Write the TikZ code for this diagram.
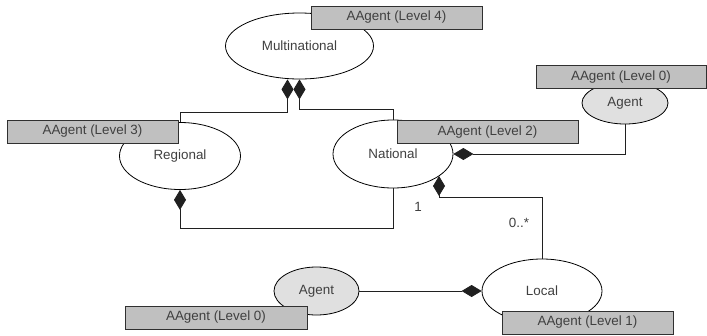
\documentclass[tikz,border=0pt]{standalone}
\usepackage{fontspec}
\setmainfont{Liberation Sans}
\usetikzlibrary{shapes.geometric,arrows.meta,calc}
\definecolor{boxfill}{HTML}{C0C0C0}
\definecolor{boxline}{HTML}{303030}
\definecolor{agentfill}{HTML}{E0E0E0}
\definecolor{txt}{HTML}{404040}
\definecolor{linecol}{HTML}{202020}
\begin{document}
\begin{tikzpicture}[x=1pt,y=-1pt,
  font=\fontsize{13.4}{16}\selectfont,
  role/.style={ellipse,draw=black,line width=0.8pt,fill=white,inner sep=0pt,text=txt},
  agentrole/.style={role,fill=agentfill},
  level/.style={rectangle,draw=boxline,line width=0.8pt,fill=boxfill,inner sep=0pt,
    minimum height=23,text=txt},
  comp/.style={draw=linecol,line width=0.8pt,{Diamond[length=20pt,width=12pt]}-},
  mult/.style={text=txt,inner sep=0pt}]
\useasboundingbox (0,0) rectangle (707,335);

% aggregation hierarchy
\node[role,minimum width=148,minimum height=66] (multi) at (299.5,46) {Multinational};
\node[role,minimum width=121,minimum height=67] (reg) at (180,156) {Regional};
\node[role,minimum width=120,minimum height=68] (nat) at (393,154) {National};
\node[role,minimum width=120,minimum height=64] (loc) at (542,291) {Local};
\node[agentrole,minimum width=86,minimum height=42] (agt) at (625,103) {Agent};
\node[agentrole,minimum width=85,minimum height=48] (agb) at (316.5,291) {Agent};

% composition links
\draw[comp] ($(multi.south)+(-12,0)$) -- ++(0,33) -| (reg.north);
\draw[comp] (multi.south) -- ++(0,30) -| (nat.north);
\draw[comp] (reg.south) -- ++(0,38) -| (nat.south);
\draw[comp] (nat.east) -| (agt.south);
\coordinate (natse) at ($(nat.center)+(46,22)$);
\draw[comp] (natse) -- ++(0,21) -| (loc.north);
\draw[comp] (loc.west) -- (agb.east);

% multiplicities
\node[mult] (one) at (418,207) {1};
\node[mult] (many) at (519,223) {0..*};

% agent level tags
\node[level,minimum width=171] (l4) at (396.5,17.5) {AAgent (Level 4)};
\node[level,minimum width=171] (l3) at (92.5,131.5) {AAgent (Level 3)};
\node[level,minimum width=181] (l2) at (487.5,132) {AAgent (Level 2)};
\node[level,minimum width=170] (l0a) at (621,77) {AAgent (Level 0)};
\node[level,minimum width=182] (l0b) at (216,317.5) {AAgent (Level 0)};
\node[level,minimum width=171] (l1) at (587.5,322.5) {AAgent (Level 1)};
\end{tikzpicture}
\end{document}
